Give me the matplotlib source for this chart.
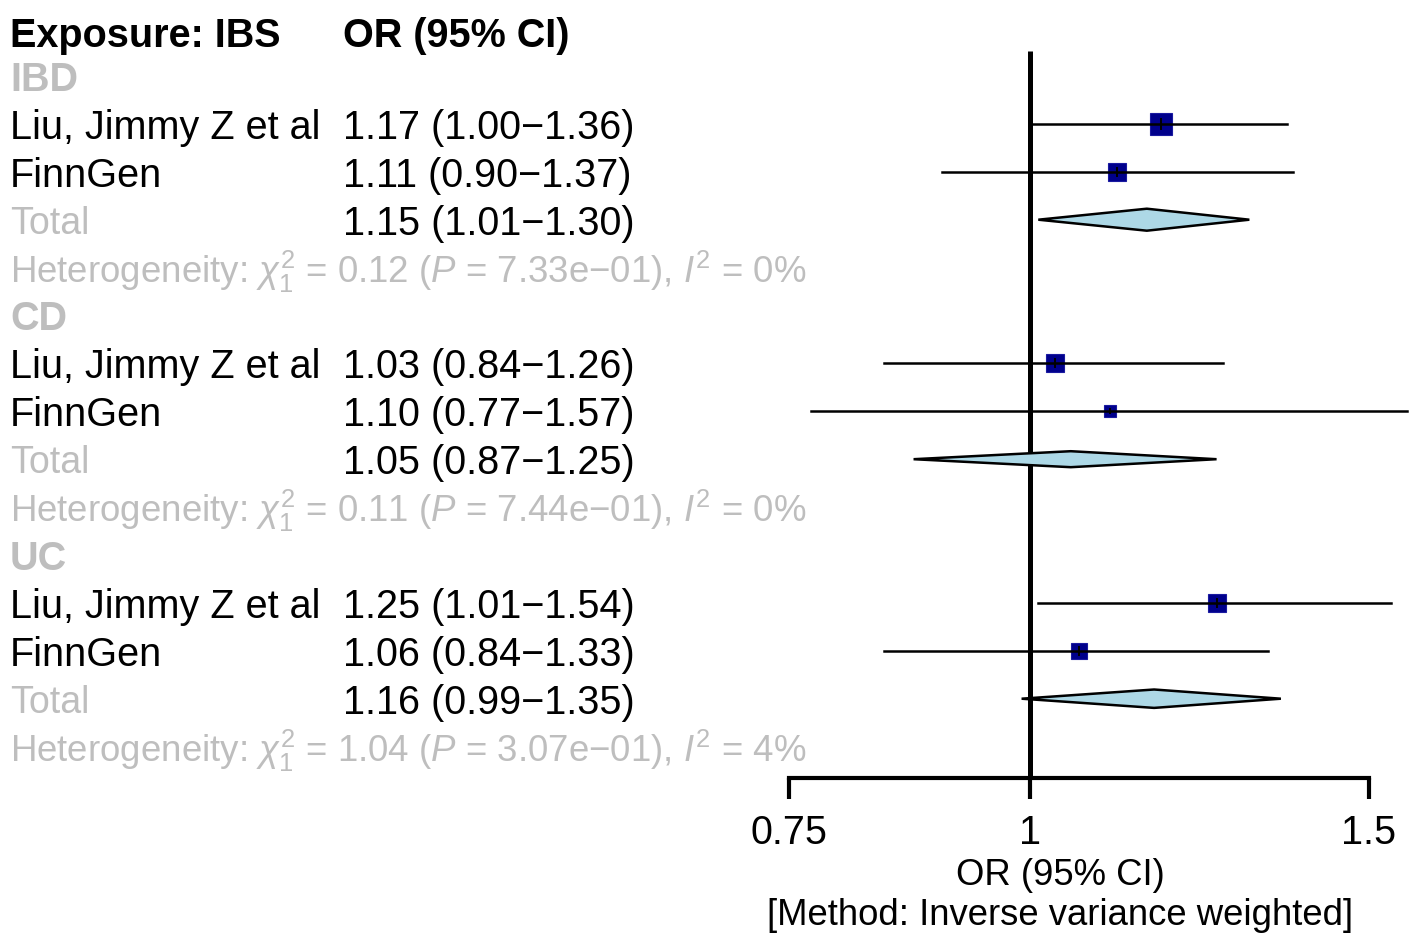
import matplotlib
matplotlib.use('Agg')

import numpy as np
import matplotlib.pyplot as plt
import matplotlib.transforms as mtransforms
from matplotlib.patches import Polygon
from matplotlib.ticker import FixedLocator, NullLocator

# data
groups = ['IBD', 'CD', 'UC']
studies = ['Liu, Jimmy Z et al', 'FinnGen']
or_est = [[1.17, 1.11], [1.03, 1.10], [1.25, 1.06]]
ci_lo = [[1.00, 0.90], [0.84, 0.77], [1.01, 0.84]]
ci_hi = [[1.36, 1.37], [1.26, 1.57], [1.54, 1.33]]
total_or = [1.15, 1.05, 1.16]
total_lo = [1.01, 0.87, 0.99]
total_hi = [1.30, 1.25, 1.35]
het_chi2 = ['0.12', '0.11', '1.04']
het_p = ['7.33e\u221201', '7.44e\u221201', '3.07e\u221201']
het_i2 = ['0', '0', '4']
x_ticks = [0.75, 1, 1.5]
x_ticklabels = ['0.75', '1', '1.5']

# style (box sizes in px, diamond half heights in px)
box_px = [[23, 17.5], [18.5, 11.8], [17.5, 16.6]]
diamond_px = [11, 8, 9.2]
GREY = '#BEBEBE'
BOX = '#00008B'
DIAM = '#ADD8E6'
FS = 28.5      # black table text
FS_SUM = 27    # grey "Total"
FS_HET = 26.4  # heterogeneity line
FS_LAB = 26.3  # x axis title

plt.rcParams['font.family'] = ['Liberation Sans', 'DejaVu Sans']
plt.rcParams['mathtext.fontset'] = 'custom'
plt.rcParams['mathtext.rm'] = 'Liberation Sans'
plt.rcParams['mathtext.it'] = 'Liberation Sans:italic'
plt.rcParams['mathtext.bf'] = 'Liberation Sans:bold'

W, H = 1418, 945
fig = plt.figure(figsize=(W / 100, H / 100), dpi=100)
ax = fig.add_axes([0, 0, 1, 1])
ax.set_xscale('log')

# pixel layout of the reference
x_one, kx = 1030, 836
row_px, top_px = 47.9, 29.1
ax.set_xlim(np.exp(-x_one / kx), np.exp((W - x_one) / kx))
ax.set_ylim((H - top_px) / row_px, -top_px / row_px)

tr = mtransforms.blended_transform_factory(fig.transFigure, ax.transData)
col1 = 10 / W
col2 = 343 / W
dy = 3 / row_px  # text sits a little lower than the marks

ax.text(col1, 0.14, 'Exposure: IBS', transform=tr, fontsize=FS, fontweight='bold', va='center')
ax.text(col2, 0.14, 'OR (95% CI)', transform=tr, fontsize=FS, fontweight='bold', va='center')

def ci_text(e, lo, hi):
    return f'{e:.2f} ({lo:.2f}\u2212{hi:.2f})'

r = 1
for g, grp in enumerate(groups):
    ax.text(col1, r + dy, grp, transform=tr, fontsize=FS, fontweight='bold', color=GREY,
            va='center')
    r += 1
    for s, st in enumerate(studies):
        e, lo, hi = or_est[g][s], ci_lo[g][s], ci_hi[g][s]
        ax.text(col1, r + dy, st, transform=tr, fontsize=FS, va='center')
        ax.text(col2, r + dy, ci_text(e, lo, hi), transform=tr, fontsize=FS, va='center')
        ms = box_px[g][s] * 0.72
        ax.plot([e], [r], marker='s', ms=ms, mfc=BOX, mec='#1a1aa0', mew=0.8, zorder=3)
        ax.plot([lo, hi], [r, r], color='black', lw=1.8, zorder=4)
        ax.plot([e], [r], marker='|', ms=ms * 0.55, mew=1.4, color='black', zorder=5)
        r += 1
    ax.text(col1, r + dy, 'Total', transform=tr, fontsize=FS_SUM, color=GREY, va='center')
    ax.text(col2, r + dy, ci_text(total_or[g], total_lo[g], total_hi[g]), transform=tr,
            fontsize=FS, va='center')
    h = diamond_px[g] / row_px
    ax.add_patch(Polygon([(total_lo[g], r), (total_or[g], r - h), (total_hi[g], r),
                          (total_or[g], r + h)], closed=True, fc=DIAM, ec='black',
                         lw=1.8, zorder=3))
    r += 1
    het = (r'Heterogeneity: $\chi^2_1$ = ' + het_chi2[g] + ' ($P$ = ' + het_p[g] +
           r'), $I^2$ = ' + het_i2[g] + '%')
    ax.text(col1, r + dy, het, transform=tr, fontsize=FS_HET, color=GREY, va='center')
    r += 1

axis_r = (779 - top_px) / row_px
ax.plot([1, 1], [(52 - top_px) / row_px, axis_r], color='black', lw=3.6, zorder=2,
        solid_capstyle='butt')

for side in ['top', 'left', 'right']:
    ax.spines[side].set_visible(False)
ax.spines['bottom'].set_position(('data', axis_r))
ax.spines['bottom'].set_bounds(x_ticks[0], x_ticks[-1])
ax.spines['bottom'].set_linewidth(3)
ax.xaxis.set_major_locator(FixedLocator(x_ticks))
ax.xaxis.set_minor_locator(NullLocator())
ax.set_xticklabels(x_ticklabels)
ax.tick_params(axis='x', length=15, width=3, labelsize=FS, pad=10, direction='out')
ax.yaxis.set_visible(False)
ax.patch.set_visible(False)

ax.text(1060 / W, (876 - top_px) / row_px, 'OR (95% CI)', transform=tr, fontsize=FS_LAB,
        ha='center', va='center')
ax.text(1060 / W, (916 - top_px) / row_px, '[Method: Inverse variance weighted]', transform=tr,
        fontsize=FS_LAB, ha='center', va='center')

fig.savefig('out.png', dpi=100)
